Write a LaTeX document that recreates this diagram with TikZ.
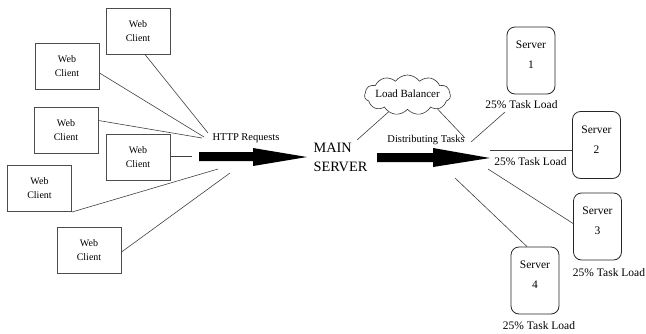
\documentclass[tikz,border=0pt]{standalone}
\usepackage{fontspec}
\setmainfont{Liberation Serif}
\usetikzlibrary{shapes.symbols,calc}
\begin{document}
\begin{tikzpicture}[x=1pt,y=-1pt,
 client/.style={draw=black!70, line width=1pt, minimum width=64pt, minimum height=46pt, inner sep=0pt, align=center, font=\fontsize{10}{14}\selectfont},
 srv/.style={draw=black!85, line width=0.8pt, rounded corners=8pt, minimum width=48pt, minimum height=67pt, inner sep=0pt},
 srvtxt/.style={align=center, font=\fontsize{11.5}{20}\selectfont, inner sep=0pt},
 load/.style={font=\fontsize{11.5}{13}\selectfont, inner sep=1pt},
 lbl/.style={font=\fontsize{10.5}{12}\selectfont, inner sep=0pt},
 conn/.style={draw=black!75, line width=0.6pt},
 bigarrow/.style={fill=black}]
\useasboundingbox (0,0) rectangle (646,333);

% web clients
\node[client] (wc1) at (138,31) {Web\\Client};
\node[client] (wc2) at (67,66) {Web\\Client};
\node[client] (wc3) at (66,130.5) {Web\\Client};
\node[client] (wc4) at (138,157.5) {Web\\Client};
\node[client] (wc5) at (39.5,188.5) {Web\\Client};
\node[client] (wc6) at (89,250) {Web\\Client};

\coordinate (h1) at (208,133);
\coordinate (h2) at (204,137);
\coordinate (h3) at (202,138);
\coordinate (h4) at (192,156);
\coordinate (h5) at (218,169);
\coordinate (h6) at (230,173);
\draw[conn] ($(wc1.south)+(7,0)$) -- (h1);
\draw[conn] ($(wc2.east)+(0,7)$) -- (h2);
\draw[conn] ($(wc3.east)+(0,-10)$) -- (h3);
\draw[conn] (wc4.east |- h4) -- (h4);
\draw[conn] (wc5.south east) -- (h5);
\draw[conn] ($(wc6.east)+(0,2)$) -- (h6);

\node[lbl] (http) at (246,138) {HTTP Requests};

% big arrow 1
\fill[bigarrow] (199,152) -- (253,152) -- (253,148) -- (307,157) -- (253,166) -- (253,161) -- (199,161) -- cycle;

\node[align=left, inner sep=0pt, font=\fontsize{14.3}{19}\selectfont] (ms) at (340.5,157.5) {MAIN\\SERVER};

% load balancer
\node[cloud, draw=black!80, line width=0.6pt, cloud puffs=11, cloud puff arc=110, aspect=2.3, minimum width=86pt, minimum height=40pt, inner sep=0pt] (lb) at (407.5,95) {};
\node[inner sep=0pt, font=\fontsize{11}{13}\selectfont] (lbt) at (407.5,94) {Load Balancer};

\coordinate (m1) at (357,140);
\draw[conn] (m1) -- (lb);
\node[lbl] (dist) at (426,140) {Distributing Tasks};
\coordinate (d1) at (465,138);
\draw[conn] (lb.-25) -- (d1);

% big arrow 2
\fill[bigarrow] (377,153) -- (433,153) -- (433,148) -- (490,158) -- (433,167) -- (433,162) -- (377,162) -- cycle;

% servers
\node[srv] (s1) at (531,60.5) {};
\node[srv] (s2) at (596.5,145) {};
\node[srv] (s3) at (597.5,226.5) {};
\node[srv] (s4) at (535,280.5) {};
\node[srvtxt] (s1t) at ($(s1)+(0,-5.5)$) {Server\\1};
\node[srvtxt] (s2t) at ($(s2)+(0,-5.5)$) {Server\\2};
\node[srvtxt] (s3t) at ($(s3)+(0,-5.5)$) {Server\\3};
\node[srvtxt] (s4t) at ($(s4)+(0,-5.5)$) {Server\\4};

\node[load] (tl1) at (521.5,105) {25\% Task Load};
\node[load] (tl2) at (530.5,162) {25\% Task Load};
\node[load] (tl3) at (609,273) {25\% Task Load};
\node[load] (tl4) at (539,326) {25\% Task Load};

\coordinate (d2) at (471,142);
\coordinate (t1) at (505,112);
\draw[conn] (d2) -- (t1);
\coordinate (r2) at (490,150);
\draw[conn] (r2) -- (r2 -| s2.west);
\coordinate (r3) at (488,169);
\draw[conn] (r3) -- ($(s3.west)+(0,-3)$);
\coordinate (r4) at (455,178);
\draw[conn] (r4) -- ($(s4.north)+(-8,0)$);
\end{tikzpicture}
\end{document}
